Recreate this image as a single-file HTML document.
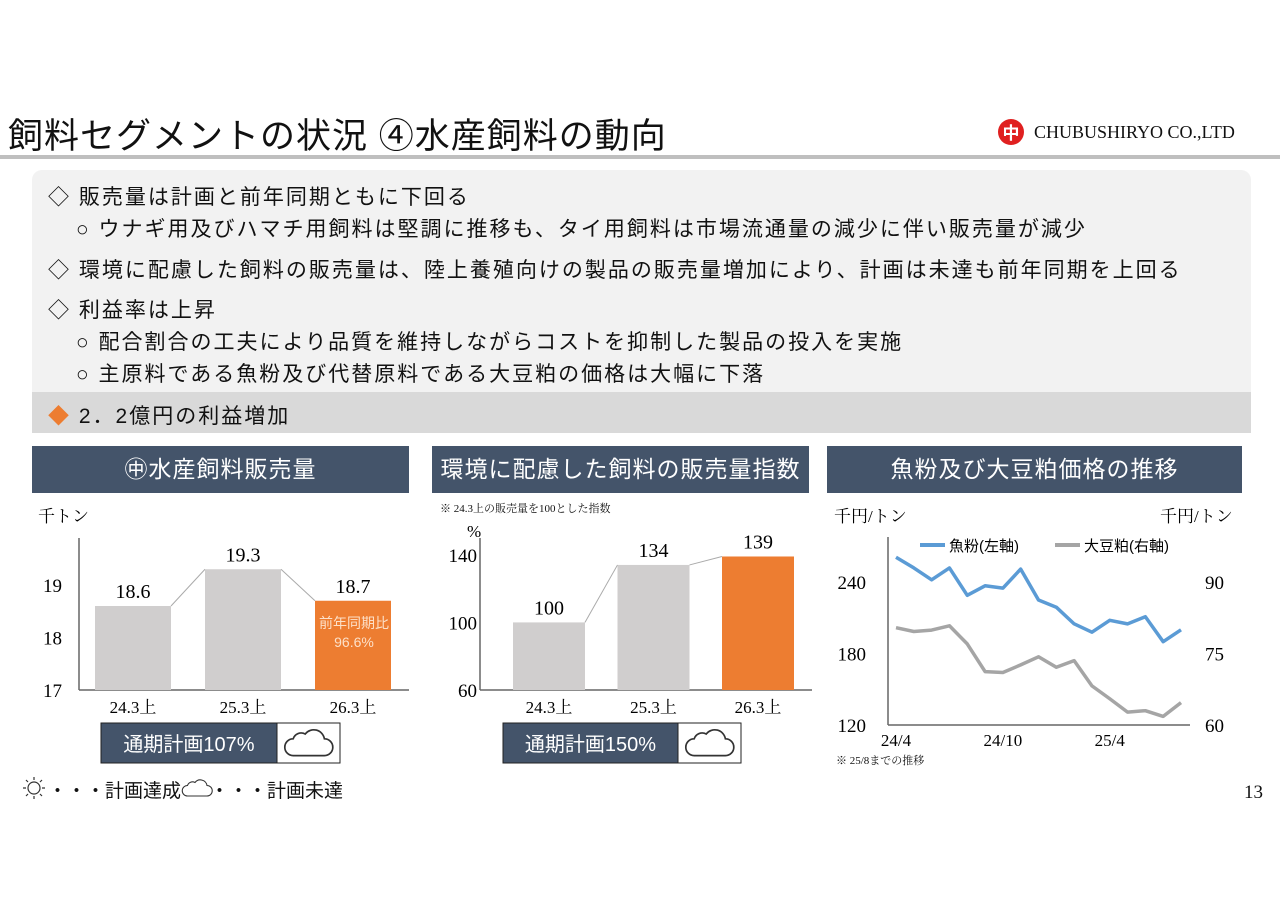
<!DOCTYPE html>
<html><head><meta charset="utf-8">
<style>
body{margin:0;width:1280px;height:905px;background:#fff;position:relative;overflow:hidden;font-family:"Liberation Serif","Noto Serif CJK SC","Noto Sans CJK JP",serif;color:#111}
.a{position:absolute;white-space:nowrap}
.hd{position:absolute;background:#44546a;color:#fff;font-family:"Liberation Sans","Noto Sans CJK JP",sans-serif;font-size:23px;text-align:center;line-height:47px;height:47px;top:446px;letter-spacing:1px}
.tx{font-family:"Liberation Sans","Noto Sans CJK JP",sans-serif;font-size:21px;letter-spacing:2px}
</style></head><body>
<div class="a" style="left:8px;top:108px;font-size:35px;letter-spacing:1px;font-family:'Liberation Sans','Noto Sans CJK JP',sans-serif">飼料セグメントの状況 ④水産飼料の動向</div>
<div class="a" style="left:998px;top:119px;width:26px;height:26px;border-radius:50%;background:#e02020;color:#fff;font-size:17px;line-height:26px;text-align:center;font-weight:bold;font-family:'Noto Sans CJK JP',sans-serif">中</div>
<div class="a" style="left:1034px;top:122px;font-size:18px">CHUBUSHIRYO CO.,LTD</div>
<div class="a" style="left:0;top:155px;width:1280px;height:4px;background:#bfbfbf"></div>
<div class="a" style="left:32px;top:170px;width:1219px;height:263px;background:#f2f2f2;border-radius:10px"></div>
<div class="a" style="left:32px;top:392px;width:1219px;height:41px;background:#d9d9d9"></div>
<div class="a tx" style="left:48px;top:181px">◇ 販売量は計画と前年同期ともに下回る</div>
<div class="a tx" style="left:76px;top:213px">○ ウナギ用及びハマチ用飼料は堅調に推移も、タイ用飼料は市場流通量の減少に伴い販売量が減少</div>
<div class="a tx" style="left:48px;top:254px">◇ 環境に配慮した飼料の販売量は、陸上養殖向けの製品の販売量増加により、計画は未達も前年同期を上回る</div>
<div class="a tx" style="left:48px;top:294px">◇ 利益率は上昇</div>
<div class="a tx" style="left:76px;top:326px">○ 配合割合の工夫により品質を維持しながらコストを抑制した製品の投入を実施</div>
<div class="a tx" style="left:76px;top:358px">○ 主原料である魚粉及び代替原料である大豆粕の価格は大幅に下落</div>
<div class="a tx" style="left:48px;top:400px"><span style="color:#ed7d31">◆</span> 2．2億円の利益増加</div>
<div class="hd" style="left:32px;width:377px">㊥水産飼料販売量</div>
<div class="hd" style="left:432px;width:377px">環境に配慮した飼料の販売量指数</div>
<div class="hd" style="left:827px;width:415px">魚粉及び大豆粕価格の推移</div>
<div class="a" style="left:440px;top:500px;font-size:11px">※ 24.3上の販売量を100とした指数</div>
<div class="a" style="left:836px;top:752px;font-size:11px">※ 25/8までの推移</div>
<div class="a tx" style="left:48px;top:776px;font-size:19px;letter-spacing:0">・・・計画達成</div>
<div class="a tx" style="left:210px;top:776px;font-size:19px;letter-spacing:0">・・・計画未達</div>
<div class="a" style="left:1244px;top:782px;font-size:19px">13</div>

<svg class="a" style="left:0;top:0" width="1280" height="905" font-family="Liberation Serif, Noto Serif CJK SC, serif">
<defs><path id="cloud" d="M-14,8 h26 a7,7 0 0 0 0,-14 a9,9 0 0 0 -16,-4 a7,7 0 0 0 -10,4 a7,7 0 0 0 0,14 z" fill="none" stroke="#333" stroke-width="1.4"/></defs>
<g transform="translate(34,788)" stroke="#333" fill="none" stroke-width="1.2"><circle r="6"/><path d="M0,-11v3M0,8v3M-11,0h3M8,0h3M-8,-8l2,2M6,6l2,2M-8,8l2,-2M6,-6l2,-2"/></g>
<g transform="translate(198,790) scale(0.75)"><use href="#cloud"/></g>
<g id="c1"></g><g id="c2"></g><g id="c3"></g>
</svg>
<script>
const ns='http://www.w3.org/2000/svg';
function mk(p,t,a,txt){const e=document.createElementNS(ns,t);for(const k in a)e.setAttribute(k,a[k]);if(txt!==undefined)e.textContent=txt;p.appendChild(e);return e;}
// Chart 1
const c1Cats=['24.3上','25.3上','26.3上'];
const c1Vals=[18.6,19.3,18.7];
const c1Ticks=[17,18,19];
// Chart 2
const c2Cats=['24.3上','25.3上','26.3上'];
const c2Vals=[100,134,139];
const c2Ticks=[60,100,140];
// Chart 3
const c3Months=17;
const c3XLabels=[[0,'24/4'],[6,'24/10'],[12,'25/4']];
const fishMeal=[261,252,242,252,229,237,235,251,225,219,205,198,208,205,211,190,200];
const soyMeal=[80.4,79.6,79.9,80.8,77,71.2,71,72.6,74.3,72.1,73.5,68.2,65.5,62.7,63,61.8,64.7];
const leftTicks=[120,180,240];
const rightTicks=[60,75,90];

function bar(g,cats,vals,ticks,cfg){
  const y=v=>cfg.y0-(v-cfg.vmin)*cfg.k;
  let l=mk(g,'line',{x1:cfg.ax,x2:cfg.ax,y1:538,y2:cfg.y0,stroke:'#666','stroke-width':1.5});
  
  l=mk(g,'line',{x1:cfg.ax,x2:cfg.ax2,y1:cfg.y0,y2:cfg.y0,stroke:'#666','stroke-width':1.5});
  
  ticks.forEach(t=>{const e=mk(g,'text',{x:cfg.tx,y:y(t)+7,'font-size':19,'text-anchor':'end'},t);
    });
  if(cfg.unit){const e=mk(g,'text',{x:cfg.ux,y:cfg.uy,'font-size':17},cfg.unit);}
  vals.forEach((v,i)=>{
    const x=cfg.x0+i*cfg.step;
    if(i>0){const px=cfg.x0+(i-1)*cfg.step+cfg.w;const c=mk(g,'line',{x1:px,y1:y(vals[i-1]),x2:x,y2:y(v),stroke:'#aaa','stroke-width':1});
      }
    const r=mk(g,'rect',{x:x,y:y(v),width:cfg.w,height:cfg.y0-y(v),fill:i==2?'#ed7d31':'#d0cece'});
    
    const t=mk(g,'text',{x:x+cfg.w/2,y:y(v)-8,'font-size':20,'text-anchor':'middle'},v.toFixed(cfg.dec));
    
    const c=mk(g,'text',{x:x+cfg.w/2,y:cfg.y0+23,'font-size':17,'text-anchor':'middle'},cats[i]);
    
  });
  const bx=cfg.px;
  let r=mk(g,'rect',{x:bx,y:723,width:cfg.pw,height:40,fill:'#44546a',stroke:'#222'});
  
  r=mk(g,'rect',{x:bx+cfg.pw,y:723,width:63,height:40,fill:'#fff',stroke:'#222'});
  
  let t=mk(g,'text',{x:bx+cfg.pw/2,y:751,'font-size':20,fill:'#fff','text-anchor':'middle','font-family':'Liberation Sans, Noto Sans CJK JP, sans-serif'},cfg.plan);
  
  const u=mk(g,'use',{href:'#cloud',transform:'translate('+(bx+cfg.pw+33)+',746) scale(1.2)'});
  
}
const g1=document.getElementById('c1');
bar(g1,c1Cats,c1Vals,c1Ticks,{ax:79,ax2:409,y0:690,vmin:17,k:52.5,tx:62,x0:95,step:110,w:76,dec:1,px:101,pw:176,plan:'通期計画107%',unit:'千トン',ux:38,uy:522});
let t=mk(g1,'text',{x:354,y:628,'font-size':14,fill:'#fde0c8','text-anchor':'middle','font-family':'Liberation Sans, Noto Sans CJK JP, sans-serif'},'前年同期比');

t=mk(g1,'text',{x:354,y:647,'font-size':14,fill:'#fde0c8','text-anchor':'middle','font-family':'Liberation Sans, sans-serif'},'96.6%');

const g2=document.getElementById('c2');
bar(g2,c2Cats,c2Vals,c2Ticks,{ax:480,ax2:812,y0:690,vmin:60,k:1.69,tx:477,x0:513,step:104.5,w:72,dec:0,px:503,pw:175,plan:'通期計画150%',unit:'%',ux:467,uy:537});
// Chart 3
const g3=document.getElementById('c3');
const X=i=>896+i*(285/(c3Months-1));
const YL=v=>725-(v-120)*1.19;
const YR=v=>725-(v-60)*4.77;
let l=mk(g3,'line',{x1:888,x2:888,y1:537,y2:725,stroke:'#666','stroke-width':1.5});
l=mk(g3,'line',{x1:888,x2:1190,y1:725,y2:725,stroke:'#666','stroke-width':1.5});
leftTicks.forEach(v=>{const e=mk(g3,'text',{x:866,y:YL(v)+7,'font-size':19,'text-anchor':'end'},v);});
rightTicks.forEach(v=>{const e=mk(g3,'text',{x:1205,y:YR(v)+7,'font-size':19},v);});
c3XLabels.forEach(([i,s])=>{const e=mk(g3,'text',{x:X(i),y:746,'font-size':17,'text-anchor':'middle'},s);});
t=mk(g3,'text',{x:834,y:522,'font-size':17},'千円/トン');
t=mk(g3,'text',{x:1160,y:522,'font-size':17},'千円/トン');
let p=mk(g3,'polyline',{points:fishMeal.map((v,i)=>X(i)+','+YL(v)).join(' '),fill:'none',stroke:'#5b9bd5','stroke-width':3.5,'stroke-linejoin':'round'});

p=mk(g3,'polyline',{points:soyMeal.map((v,i)=>X(i)+','+YR(v)).join(' '),fill:'none',stroke:'#a5a5a5','stroke-width':3.5,'stroke-linejoin':'round'});

l=mk(g3,'line',{x1:920,x2:945,y1:545,y2:545,stroke:'#5b9bd5','stroke-width':4});
t=mk(g3,'text',{x:949,y:551,'font-size':15,'font-family':'Liberation Sans, Noto Sans CJK JP, sans-serif'},'魚粉(左軸)');
l=mk(g3,'line',{x1:1055,x2:1080,y1:545,y2:545,stroke:'#a5a5a5','stroke-width':4});
t=mk(g3,'text',{x:1084,y:551,'font-size':15,'font-family':'Liberation Sans, Noto Sans CJK JP, sans-serif'},'大豆粕(右軸)');
</script>
</body></html>
